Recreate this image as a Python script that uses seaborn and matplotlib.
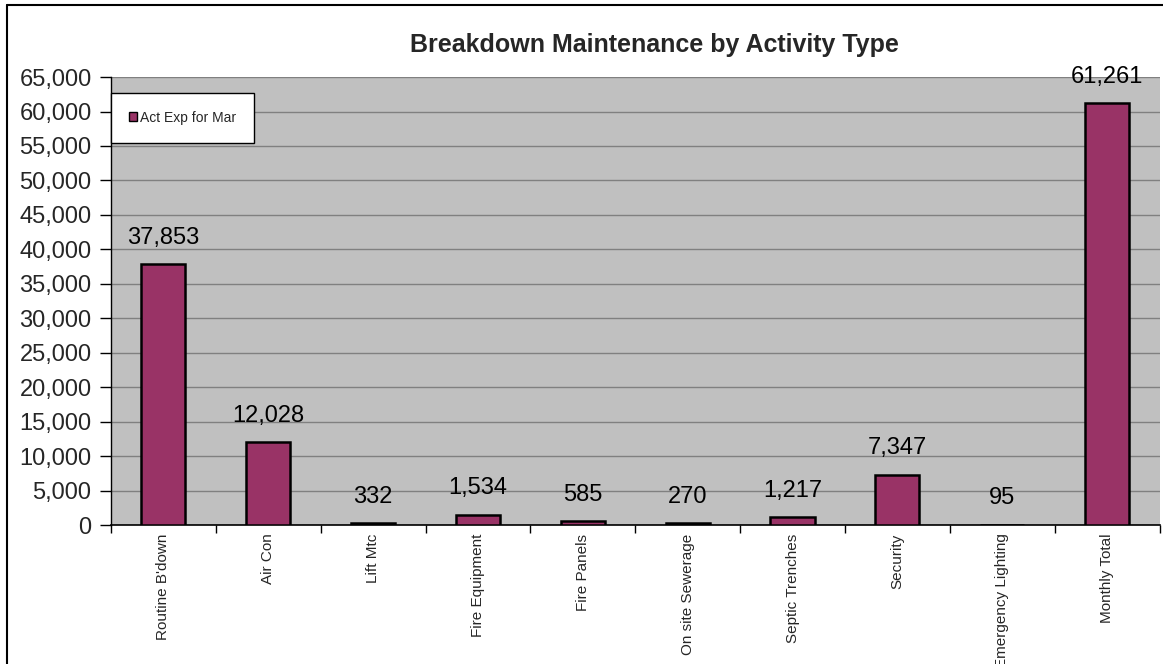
import pandas as pd
import numpy as np
import matplotlib
matplotlib.use("Agg")
import matplotlib.pyplot as plt
import seaborn as sns
from matplotlib.lines import Line2D

activities = ["Routine B'down", "Air Con", "Lift Mtc", "Fire Equipment", "Fire Panels",
              "On site Sewerage", "Septic Trenches", "Security", "Emergency Lighting",
              "Monthly Total"]
expense = [37853, 12028, 332, 1534, 585, 270, 1217, 7347, 95, 61261]
series_name = "Act Exp for Mar"

df = pd.DataFrame({"activity": activities, "expense": expense})

sns.set_theme(style="white", rc={
    "axes.facecolor": "#C0C0C0",
    "figure.facecolor": "white",
    "grid.color": "#808080",
    "axes.edgecolor": "black",
})
plt.rcParams["font.family"] = ["Liberation Sans", "DejaVu Sans"]

fig = plt.figure(figsize=(11.63, 6.64), dpi=100)
ax = fig.add_axes([0.0954, 0.209, 0.9016, 0.675])

sns.barplot(data=df, x="activity", y="expense", color="#993366", width=0.42,
            edgecolor="black", linewidth=1.8, saturation=1, ax=ax, zorder=3)

for i, v in enumerate(expense):
    ax.annotate(f"{v:,}", (i, v), xytext=(0, 11), textcoords="offset points",
                ha="center", va="bottom", fontsize=17, color="black")

ax.set_ylim(0, 65000)
ax.set_xlim(-0.5, 9.5)
ax.set_yticks(np.arange(0, 65001, 5000))
ax.set_yticklabels([f"{t:,}" for t in range(0, 65001, 5000)], fontsize=17)
ax.yaxis.grid(True, linewidth=1, zorder=0)
ax.set_axisbelow(True)
ax.tick_params(axis="y", left=True, length=8, width=1, color="black", pad=6)

ax.set_xticks(range(len(activities)))
ax.set_xticklabels(activities, rotation=90, fontsize=11)
ax.tick_params(axis="x", which="major", length=0, pad=6)
ax.set_xticks(np.arange(-0.5, 10, 1), minor=True)
ax.tick_params(axis="x", which="minor", bottom=True, length=6, width=1, color="black")

for s in ["top", "right"]:
    ax.spines[s].set_visible(False)
ax.spines["left"].set_linewidth(1)
ax.spines["bottom"].set_linewidth(1.2)

ax.set_xlabel("")
ax.set_ylabel("")

handle = plt.Rectangle((0, 0), 1, 1, facecolor="#993366", edgecolor="black", linewidth=1)
leg = ax.legend([handle], [series_name], loc="upper left", bbox_to_anchor=(0, 0.965),
                frameon=True, fancybox=False, facecolor="white", edgecolor="black",
                framealpha=1, fontsize=10, handlelength=0.6, handleheight=0.6,
                handletextpad=0.2, borderpad=1.3, borderaxespad=0)
leg.get_frame().set_linewidth(1)

fig.text(0.563, 0.932, "Breakdown Maintenance by Activity Type", ha="center", va="center",
         fontsize=18, fontweight="bold")

# chart frame border (top and left)
fig.add_artist(Line2D([0.006, 0.006], [0, 0.992], color="black", linewidth=1.5,
                      transform=fig.transFigure))
fig.add_artist(Line2D([0.006, 1], [0.992, 0.992], color="black", linewidth=1.5,
                      transform=fig.transFigure))

fig.savefig("out.png", dpi=100)
